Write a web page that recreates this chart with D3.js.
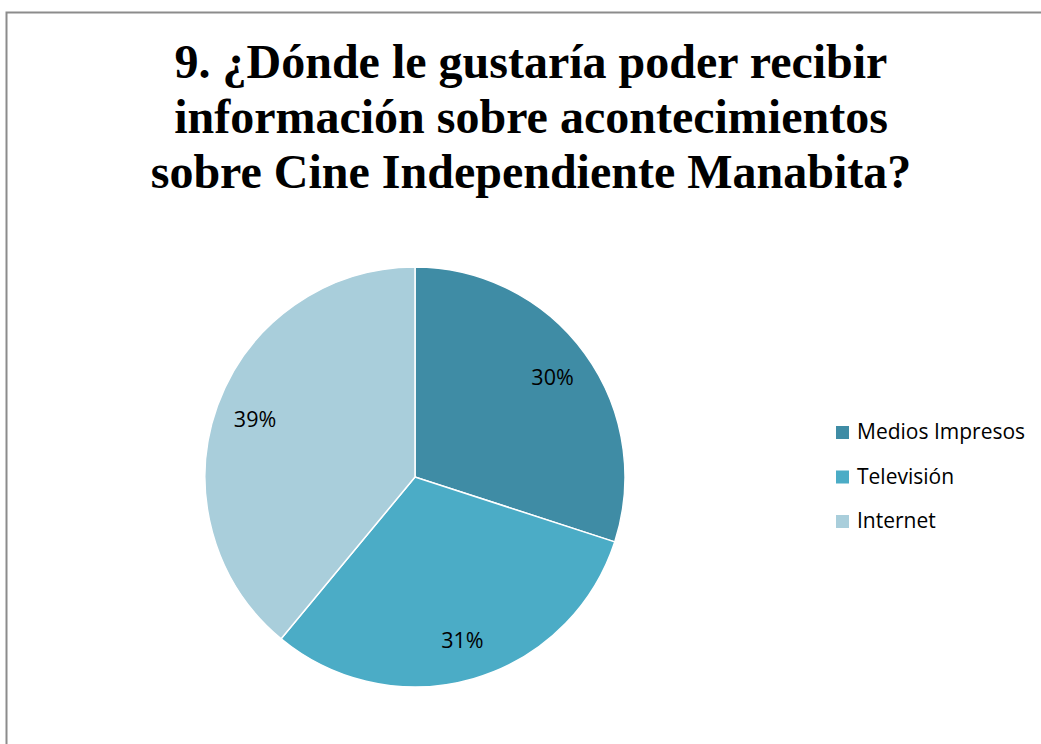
<!DOCTYPE html>
<html><head><meta charset="utf-8">
<script src="https://cdn.jsdelivr.net/npm/d3@7"></script>
<style>body{margin:0;background:#fff}svg{display:block}</style>
</head><body>
<svg id="c" width="1041" height="744"></svg>
<script>
const titleLines = ["9. ¿Dónde le gustaría poder recibir", "información sobre acontecimientos", "sobre Cine Independiente Manabita?"];
const categories = ["Medios Impresos", "Televisión", "Internet"];
const values = [30, 31, 39];
const colors = ["#3F8CA5", "#4BACC6", "#A9CEDB"];

const svg = d3.select("#c");
svg.append("rect").attr("x", 6.5).attr("y", 12.5).attr("width", 1100).attr("height", 800)
  .attr("fill", "#fff").attr("stroke", "#8c8c8c").attr("stroke-width", 2);

svg.append("g").selectAll("text").data(titleLines).join("text")
  .attr("x", 531).attr("y", (d, i) => 78 + i * 55)
  .attr("text-anchor", "middle")
  .style("font-family", "'Liberation Serif','Times New Roman',serif")
  .style("font-weight", "bold").style("font-size", "48px").attr("fill", "#000")
  .text(d => d);

const cx = 415, cy = 477, R = 210;
const pie = d3.pie().sort(null).value(d => d);
const arcs = pie(values);
const arc = d3.arc().innerRadius(0).outerRadius(R);
const labelArc = d3.arc().innerRadius(170).outerRadius(170);
const color = d3.scaleOrdinal().domain(d3.range(values.length)).range(colors);
const g = svg.append("g").attr("transform", `translate(${cx},${cy})`);
g.selectAll("path").data(arcs).join("path")
  .attr("d", arc).attr("fill", (d, i) => color(i))
  .attr("stroke", "#fff").attr("stroke-width", 1.5);
const total = d3.sum(values);
g.selectAll("text").data(arcs).join("text")
  .attr("transform", d => `translate(${labelArc.centroid(d)})`)
  .attr("text-anchor", "middle").attr("dy", "0.35em")
  .style("font-family", "'Open Sans','Noto Sans',sans-serif").style("font-size", "21.5px").attr("fill", "#000")
  .text(d => Math.round(d.data / total * 100) + "%");

const leg = svg.append("g").attr("transform", "translate(836,432)");
const rows = leg.selectAll("g").data(categories).join("g")
  .attr("transform", (d, i) => `translate(0,${i * 44.5})`);
rows.append("rect").attr("x", 0).attr("y", -6).attr("width", 13).attr("height", 13)
  .attr("fill", (d, i) => color(i));
rows.append("text").attr("x", 21).attr("y", 0).attr("dy", "0.35em")
  .style("font-family", "'Open Sans','Noto Sans',sans-serif").style("font-size", "21px").attr("fill", "#000")
  .text(d => d);
</script>
</body></html>
